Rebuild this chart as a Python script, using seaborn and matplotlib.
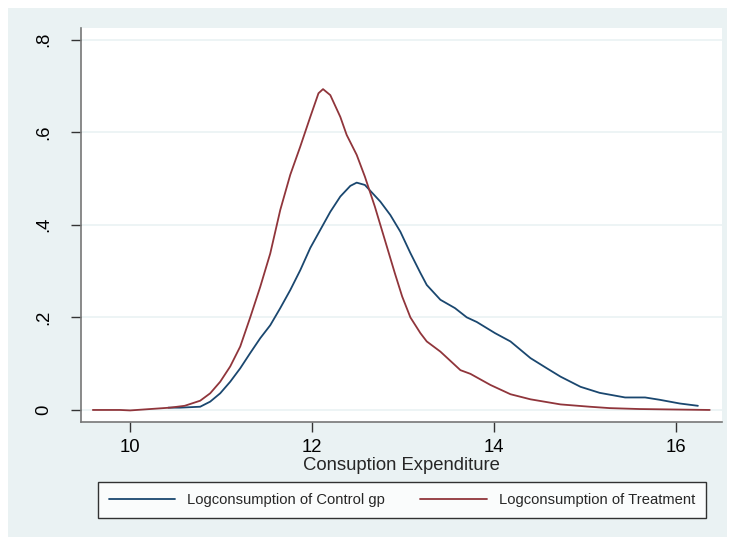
import numpy as np
import pandas as pd
import matplotlib
matplotlib.use("Agg")
import matplotlib.pyplot as plt
from matplotlib.patches import Rectangle
from matplotlib.lines import Line2D
import seaborn as sns

# ---- data ----
control_x = [10.42, 10.55, 10.77, 10.88, 10.99, 11.10, 11.21, 11.32, 11.43, 11.54,
             11.65, 11.76, 11.87, 11.98, 12.09, 12.20, 12.31, 12.42, 12.49, 12.58,
             12.75, 12.86, 12.97, 13.08, 13.19, 13.26, 13.41, 13.57, 13.70, 13.81,
             14.01, 14.18, 14.40, 14.58, 14.73, 14.95, 15.16, 15.44, 15.66, 15.82,
             16.04, 16.24]
control_y = [0.005, 0.005, 0.007, 0.018, 0.036, 0.061, 0.090, 0.123, 0.155, 0.183,
             0.220, 0.259, 0.302, 0.350, 0.389, 0.428, 0.461, 0.484, 0.491, 0.486,
             0.450, 0.421, 0.385, 0.339, 0.296, 0.270, 0.238, 0.220, 0.200, 0.190,
             0.166, 0.148, 0.112, 0.090, 0.072, 0.050, 0.037, 0.027, 0.027, 0.022,
             0.014, 0.009]

treat_x = [9.59, 9.89, 10.00, 10.22, 10.44, 10.60, 10.77, 10.88, 10.99, 11.10,
           11.21, 11.32, 11.43, 11.54, 11.65, 11.76, 11.87, 11.98, 12.07, 12.12,
           12.20, 12.31, 12.38, 12.49, 12.58, 12.69, 12.80, 12.91, 12.99, 13.08,
           13.19, 13.26, 13.41, 13.63, 13.74, 13.96, 14.18, 14.40, 14.73, 15.05,
           15.27, 15.60, 16.37]
treat_y = [0.000, 0.000, -0.001, 0.002, 0.005, 0.009, 0.020, 0.036, 0.061, 0.094,
           0.137, 0.200, 0.266, 0.338, 0.432, 0.508, 0.569, 0.633, 0.684, 0.693,
           0.680, 0.633, 0.594, 0.551, 0.504, 0.439, 0.367, 0.295, 0.245, 0.200,
           0.166, 0.148, 0.126, 0.086, 0.078, 0.054, 0.034, 0.023, 0.012, 0.007,
           0.004, 0.002, 0.000]

series_names = ["Logconsumption of Control gp", "Logconsumption of Treatment"]
x_ticks = [10, 12, 14, 16]
y_ticks = [0, 0.2, 0.4, 0.6, 0.8]
y_tick_labels = ["0", ".2", ".4", ".6", ".8"]
x_label = "Consuption Expenditure"

df = pd.concat([
    pd.DataFrame({"x": control_x, "y": control_y, "series": series_names[0]}),
    pd.DataFrame({"x": treat_x, "y": treat_y, "series": series_names[1]}),
], ignore_index=True)

# ---- style ----
sns.set_theme(style="white")
plt.rcParams["font.family"] = ["Liberation Sans", "DejaVu Sans"]

navy = "#1A476F"
maroon = "#90353B"
bg = "#EAF2F3"
palette = {series_names[0]: navy, series_names[1]: maroon}

W, H = 730, 537
fig = plt.figure(figsize=(W / 100, H / 100), dpi=100)
fig.patch.set_facecolor("white")
fig.patches.append(Rectangle((8 / W, 0), (727 - 8) / W, (H - 8) / H,
                             transform=fig.transFigure, facecolor=bg,
                             edgecolor="none", zorder=-10))

ax = fig.add_axes([81 / W, 1 - 422 / H, (722 - 81) / W, (422 - 28) / H])
ax.set_facecolor("white")

sns.lineplot(data=df, x="x", y="y", hue="series", palette=palette,
             estimator=None, sort=False, linewidth=1.3, legend=False, ax=ax)

ax.set_xlim(9.46, 16.505)
ax.set_ylim(-0.026, 0.825)
ax.set_xticks(x_ticks)
ax.set_xticklabels([str(t) for t in x_ticks], fontsize=13.3)
ax.set_yticks(y_ticks)
ax.set_yticklabels(y_tick_labels, fontsize=13.3, rotation=90, va="center")
ax.yaxis.grid(True, color=bg, linewidth=1.2)
ax.xaxis.grid(False)
ax.set_axisbelow(True)

for side in ["top", "right"]:
    ax.spines[side].set_visible(False)
for side in ["left", "bottom"]:
    ax.spines[side].set_color("#777777")
    ax.spines[side].set_linewidth(1.2)
ax.tick_params(axis="both", direction="out", length=7, width=1, color="#333333",
               bottom=True, left=True, labelcolor="black")
ax.tick_params(axis="x", pad=5)
ax.tick_params(axis="y", pad=14)

ax.set_xlabel(x_label, fontsize=13.3, labelpad=1)
ax.set_ylabel("")

handles = [Line2D([], [], color=navy, lw=1.3), Line2D([], [], color=maroon, lw=1.3)]
leg = fig.legend(handles, series_names, ncol=2, loc="center",
                 bbox_to_anchor=(402 / W, 1 - 500 / H), frameon=True,
                 fancybox=False, fontsize=10.6, handlelength=4.5,
                 columnspacing=2.4, borderpad=0.75, handletextpad=0.8)
leg.get_frame().set_edgecolor("black")
leg.get_frame().set_linewidth(1.0)

fig.savefig("out.png", dpi=100, facecolor=fig.get_facecolor())
